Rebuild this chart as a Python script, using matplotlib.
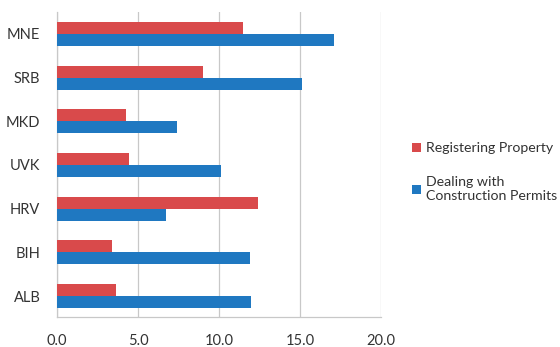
import matplotlib.pyplot as plt
import numpy as np

plt.rcParams['font.family'] = ['Lato', 'DejaVu Sans']

countries = ["ALB", "BIH", "HRV", "UVK", "MKD", "SRB", "MNE"]
registering = [3.65, 3.4, 12.4, 4.45, 4.25, 9.0, 11.5]
construction = [12.0, 11.9, 6.7, 10.1, 7.4, 15.1, 17.1]

red = "#D94A4B"
blue = "#1F78C1"
gray = "#C8C8C8"

fig = plt.figure(figsize=(5.6, 3.47), dpi=100)
ax = fig.add_axes([0.1018, 0.0865, 0.5786, 0.879])

y = np.arange(len(countries))
h = 0.275
ax.barh(y + h / 2, registering, height=h, color=red, label="Registering Property", zorder=3)
ax.barh(y - h / 2, construction, height=h, color=blue, label="Dealing with\nConstruction Permits", zorder=3)

ax.set_xlim(0, 20)
ax.set_ylim(-0.48, 6.5)
ax.set_xticks([0, 5, 10, 15, 20])
ax.set_xticklabels(["0.0", "5.0", "10.0", "15.0", "20.0"])
ax.set_yticks(y)
ax.set_yticklabels(countries)
ax.tick_params(axis="both", length=0, labelsize=10.5, colors="#333333")
ax.tick_params(axis="x", pad=12)
ax.tick_params(axis="y", pad=12)

ax.grid(axis="x", color=gray, linewidth=0.9, zorder=0)
for s in ["top", "right"]:
    ax.spines[s].set_visible(False)
for s in ["left", "bottom"]:
    ax.spines[s].set_color(gray)
    ax.spines[s].set_linewidth(0.9)

fig.legend(loc="upper left", bbox_to_anchor=(0.736, 0.59), frameon=False,
           borderpad=0, borderaxespad=0,
           fontsize=10.2, handlelength=0.65, handleheight=0.65, handletextpad=0.35,
           labelspacing=1.55, labelcolor="#333333")

fig.savefig("out.png", dpi=100)
